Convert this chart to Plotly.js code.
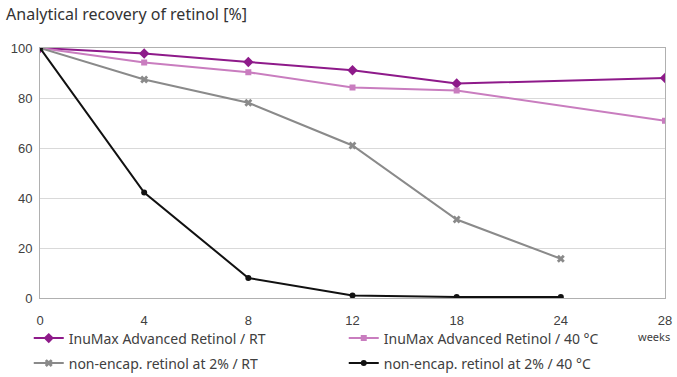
<!DOCTYPE html>
<html><head><meta charset="utf-8">
<script src="https://cdn.plot.ly/plotly-3.0.1.min.js"></script>
<style>html,body{margin:0;padding:0;background:#fff;}#chart{width:677px;height:377px;}</style>
</head><body><div id="chart"></div>
<script>
const weeks = ['0','4','8','12','18','24','28'];
const inuRT   = [100, 97.8, 94.4, 91.1, 85.8, null, 88.0];
const inu40   = [100, 94.2, 90.3, 84.2, 83.0, null, 70.9];
const nonRT   = [100, 87.4, 78.1, 61.0, 31.4, 15.7, null];
const non40   = [100, 42.2, 8.0, 1.0, 0.4, 0.4, null];
const names = ['InuMax Advanced Retinol / RT','InuMax Advanced Retinol / 40 °C','non-encap. retinol at 2% / RT','non-encap. retinol at 2% / 40 °C'];
const yTicks = [0,20,40,60,80,100];

const legFont = {family:'Noto Sans, sans-serif', size:14, color:'#404040'};
const traces = [
  {x:weeks, y:inuRT, name:names[0], mode:'lines+markers', connectgaps:true, legend:'legend',
   line:{color:'#8e1a8a', width:2}, marker:{symbol:'diamond', size:8, color:'#8e1a8a'}},
  {x:weeks, y:inu40, name:names[1], mode:'lines+markers', connectgaps:true, legend:'legend',
   line:{color:'#c97dbf', width:2}, marker:{symbol:'square', size:6, color:'#c97dbf'}},
  {x:weeks, y:nonRT, name:names[2], mode:'lines+markers', legend:'legend2',
   line:{color:'#8a8a8a', width:2}, marker:{symbol:'x', size:7, color:'#8a8a8a'}},
  {x:weeks, y:non40, name:names[3], mode:'lines+markers', legend:'legend2',
   line:{color:'#111111', width:2}, marker:{symbol:'circle', size:6, color:'#111111'}}
];
const layout = {
  width:677, height:377,
  margin:{l:40, r:12, t:48, b:79, autoexpand:false},
  paper_bgcolor:'#fff', plot_bgcolor:'#fff',
  showlegend:true,
  title:{text:'Analytical recovery of retinol [%]', x:0.009, xanchor:'left', y:0.963, yanchor:'middle',
         font:{family:'Noto Sans, sans-serif', size:16, color:'#333'}},
  xaxis:{type:'category', categoryorder:'array', categoryarray:weeks, range:[0,6],
         showgrid:false, showline:true, mirror:true, linecolor:'#b0b0b0', linewidth:1,
         ticks:'', tickfont:{family:'Liberation Sans, Arial, sans-serif', size:13, color:'#404040'},
         ticklabelstandoff:10, zeroline:false, fixedrange:true},
  yaxis:{range:[0,100], tickvals:yTicks, showgrid:true, gridcolor:'#d9d9d9', gridwidth:1,
         showline:true, mirror:true, linecolor:'#b0b0b0', linewidth:1, ticks:'', zeroline:false,
         tickfont:{family:'Liberation Sans, Arial, sans-serif', size:13, color:'#404040'}, ticklabelstandoff:4},
  legend:{orientation:'h', x:-0.018, xanchor:'left', y:-0.098, yanchor:'top', entrywidth:270, entrywidthmode:'pixels',
          font:legFont, bgcolor:'rgba(0,0,0,0)', itemwidth:30},
  legend2:{orientation:'h', x:-0.018, xanchor:'left', y:-0.198, yanchor:'top', entrywidth:270, entrywidthmode:'pixels',
          font:legFont, bgcolor:'rgba(0,0,0,0)', itemwidth:30},
  annotations:[{xref:'paper', yref:'paper', x:0.982, y:-0.155, xanchor:'center', yanchor:'middle', showarrow:false,
                text:'weeks', font:{family:'Noto Sans, sans-serif', size:11, color:'#404040'}}]
};
Plotly.newPlot('chart', traces, layout, {staticPlot:true, displayModeBar:false});
</script></body></html>
